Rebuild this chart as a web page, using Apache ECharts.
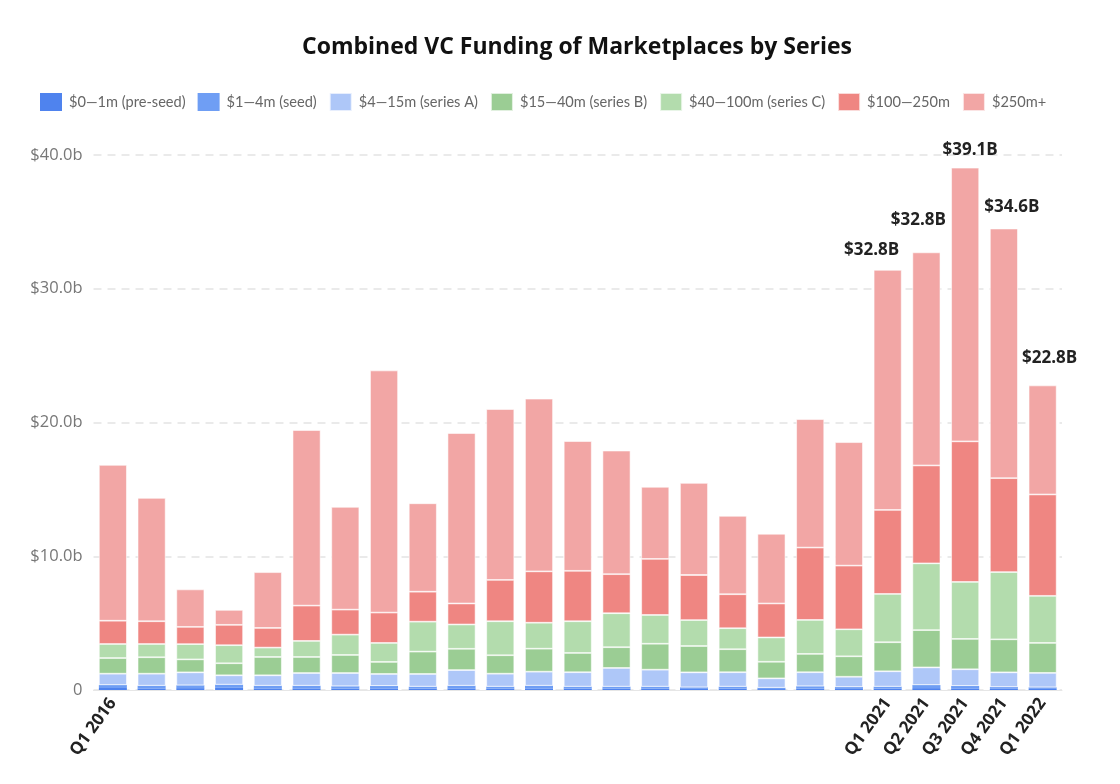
<!DOCTYPE html>
<html>
<head>
<meta charset="utf-8">
<script src="https://cdn.jsdelivr.net/npm/echarts@6/dist/echarts.min.js"></script>
<style>
  html, body { margin: 0; padding: 0; background: #fff; }
  #chart { width: 1120px; height: 784px; }
</style>
</head>
<body>
<div id="chart"></div>
<script>
// ---- Data (values in $ billions) ----
const categories = [
  'Q1 2016','Q2 2016','Q3 2016','Q4 2016',
  'Q1 2017','Q2 2017','Q3 2017','Q4 2017',
  'Q1 2018','Q2 2018','Q3 2018','Q4 2018',
  'Q1 2019','Q2 2019','Q3 2019','Q4 2019',
  'Q1 2020','Q2 2020','Q3 2020','Q4 2020',
  'Q1 2021','Q2 2021','Q3 2021','Q4 2021','Q1 2022'
];
const shownTickLabels = ['Q1 2016','Q1 2021','Q2 2021','Q3 2021','Q4 2021','Q1 2022'];
const seriesNames = [
  '$0\u20141m (pre-seed)', '$1\u20144m (seed)', '$4\u201415m (series A)',
  '$15\u201440m (series B)', '$40\u2014100m (series C)', '$100\u2014250m', '$250m+'
];
const preSeed = [0.15,0.12,0.14,0.16,0.12,0.12,0.10,0.12,0.10,0.12,0.10,0.12,0.10,0.10,0.10,0.08,0.10,0.07,0.10,0.08,0.10,0.14,0.12,0.09,0.08];
const seed    = [0.22,0.20,0.21,0.24,0.20,0.20,0.18,0.18,0.15,0.20,0.15,0.20,0.15,0.15,0.15,0.12,0.15,0.10,0.18,0.14,0.15,0.23,0.18,0.13,0.12];
const seriesA = [0.85,0.90,0.97,0.70,0.78,0.95,0.99,0.90,0.95,1.17,0.97,1.05,1.08,1.40,1.27,1.12,1.08,0.70,1.05,0.77,1.15,1.32,1.25,1.10,1.08];
const seriesB = [1.17,1.23,0.97,0.90,1.37,1.20,1.35,0.90,1.67,1.59,1.38,1.72,1.44,1.55,1.94,1.97,1.72,1.24,1.37,1.53,2.17,2.79,2.27,2.47,2.24];
const seriesC = [1.05,0.99,1.14,1.35,0.70,1.20,1.52,1.42,2.24,1.82,2.54,1.94,2.37,2.54,2.15,1.94,1.57,1.82,2.54,2.02,3.61,4.99,4.26,5.03,3.52];
const m100    = [1.74,1.70,1.29,1.52,1.47,2.64,1.87,2.27,2.24,1.57,3.09,3.84,3.77,2.92,4.19,3.37,2.54,2.54,5.41,4.76,6.28,7.32,10.51,7.02,7.58];
const m250    = [11.65,9.22,2.80,1.12,4.17,13.12,7.68,18.10,6.61,12.74,12.77,12.91,9.70,9.24,5.39,6.88,5.86,5.21,9.60,9.23,17.95,15.93,20.46,18.66,8.15];
const totalLabels = ['','','','','','','','','','','','','','','','','','','','','$32.8B','$32.8B','$39.1B','$34.6B','$22.8B'];
const yTicks = [0, 10, 20, 30, 40];

// ---- Styling ----
const colors = ['#4f83ee','#6f9ef4','#aec7f8','#9bcd94','#b3dcad','#ef8682','#f2a6a5'];
const labelOffsets = { 20: [-16, -6], 21: [-8, -19], 22: [5, -4], 23: [8, -8], 24: [7, -14] };

const values = [preSeed, seed, seriesA, seriesB, seriesC, m100, m250];

const series = values.map((arr, si) => {
  const isTop = si === values.length - 1;
  return {
    name: seriesNames[si],
    type: 'bar',
    stack: 'total',
    barWidth: 28,
    itemStyle: { color: colors[si], borderColor: 'rgba(255,255,255,0.7)', borderWidth: si < 2 ? 0 : 0.8 },
    emphasis: { disabled: true },
    data: arr.map((v, i) => {
      if (!isTop || !totalLabels[i]) return v;
      return {
        value: v,
        label: {
          show: true,
          position: 'top',
          distance: 5,
          offset: labelOffsets[i] || [0, 0],
          formatter: totalLabels[i],
          color: '#222',
          fontFamily: 'Open Sans',
          fontWeight: 'bold',
          fontSize: 17
        }
      };
    })
  };
});

const chart = echarts.init(document.getElementById('chart'));
chart.setOption({
  animation: false,
  backgroundColor: '#fff',
  title: {
    text: 'Combined VC Funding of Marketplaces by Series',
    left: 297,
    top: 31,
    textStyle: { fontFamily: 'Open Sans', fontWeight: 'bold', fontSize: 23, color: '#111' }
  },
  legend: {
    left: 35,
    top: 87,
    icon: 'rect',
    itemWidth: 22,
    itemHeight: 18,
    itemGap: 12,
    textStyle: { fontFamily: 'Lato', fontSize: 14.6, color: '#666', padding: [0, 0, 0, 2] },
    data: seriesNames
  },
  grid: { left: 93.5, right: 58, top: 155, bottom: 94, containLabel: false },
  xAxis: {
    type: 'category',
    data: categories,
    axisTick: { show: false },
    axisLine: { show: true, lineStyle: { color: '#e6e6e6', width: 1 } },
    axisLabel: {
      interval: 0,
      rotate: 54,
      margin: 10,
      fontFamily: 'Open Sans',
      fontWeight: 'bold',
      fontSize: 17,
      color: '#222',
      formatter: (v) => shownTickLabels.includes(v) ? v : ''
    }
  },
  yAxis: {
    type: 'value',
    min: yTicks[0],
    max: yTicks[yTicks.length - 1],
    interval: 10,
    axisLine: { show: false },
    axisTick: { show: false },
    splitLine: { show: true, lineStyle: { color: '#e3e3e3', width: 1.5, type: [8, 6] } },
    axisLabel: {
      margin: 11,
      fontFamily: 'Open Sans',
      fontSize: 16.5,
      color: '#777',
      formatter: (v) => v === 0 ? '0' : '$' + v.toFixed(1) + 'b'
    }
  },
  series: series
});
</script>
</body>
</html>
